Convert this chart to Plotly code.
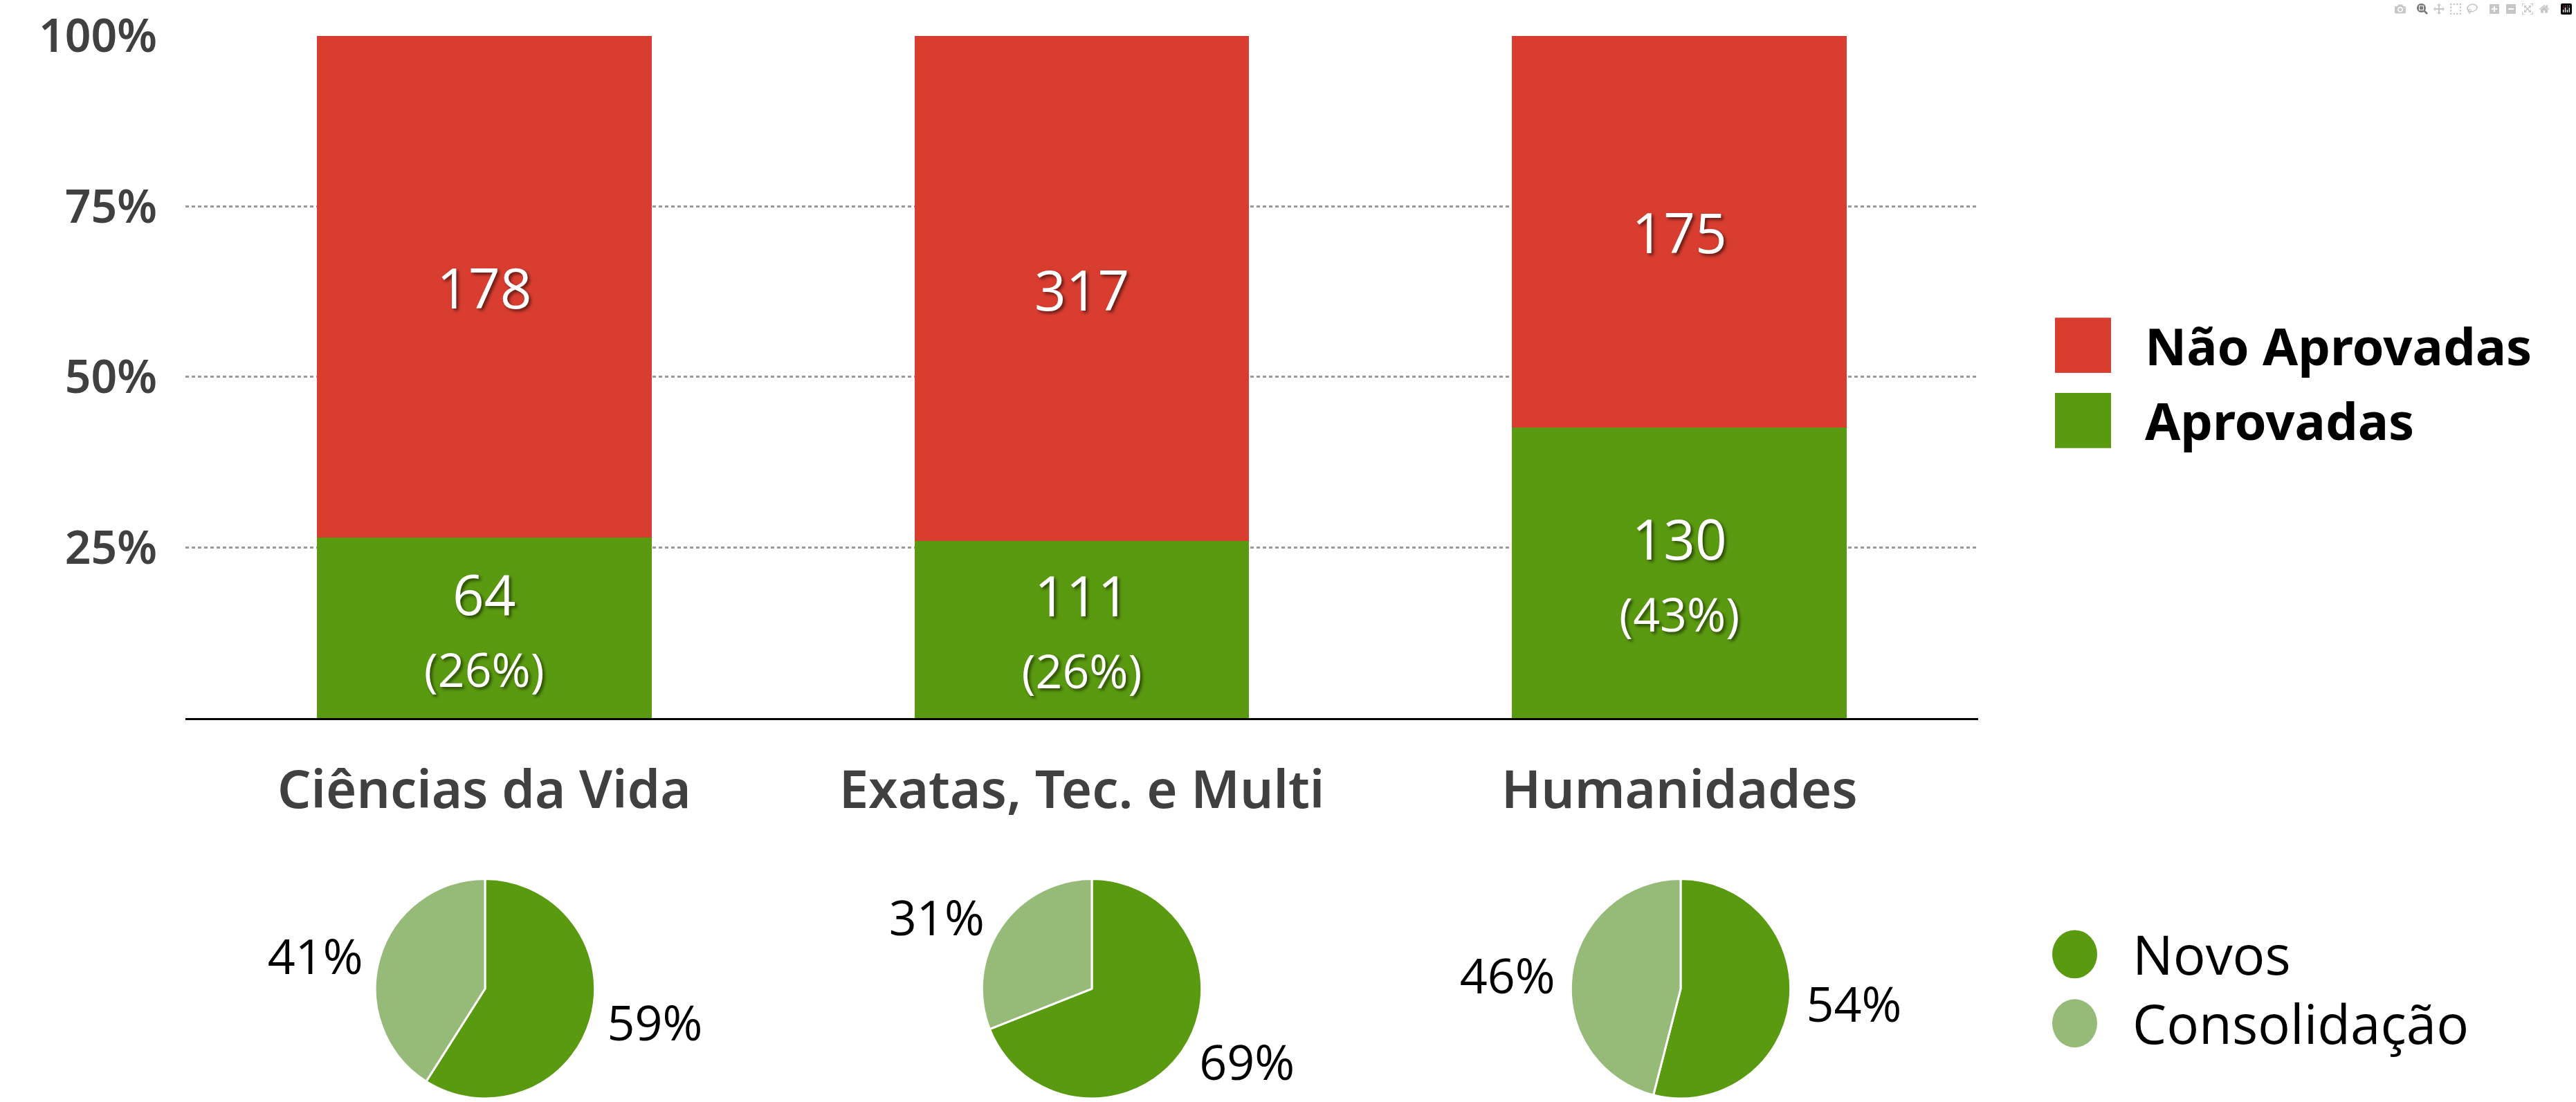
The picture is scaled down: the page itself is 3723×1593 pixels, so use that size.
import plotly.graph_objects as go

# ---------------- data ----------------
categories = ["Ciências da Vida", "Exatas, Tec. e Multi", "Humanidades"]
aprovadas = [64, 111, 130]
nao_aprovadas = [178, 317, 175]
series_names = ["Não Aprovadas", "Aprovadas"]

pie_labels = ["Novos", "Consolidação"]
pie_novos = [59, 69, 54]
pie_consolidacao = [41, 31, 46]

y_tick_vals = [25, 50, 75, 100]
y_tick_text = ["25%", "50%", "75%", "100%"]

# ---------------- styles ----------------
W, H = 3723, 1593
RED = "#D93D30"
GREEN = "#5A9A10"
LIGHT_GREEN = "#96BB78"
AXIS_GREY = "#404040"
LABEL_FONT = "Noto Sans"
NUM_FONT = "Open Sans"
SHADOW = "3px 3px 4px rgba(0,0,0,0.55)"


def px_x(p):
    return p / W


def px_y(p):
    return (H - p) / H


fig = go.Figure()

ap_text = []
for a, n in zip(aprovadas, nao_aprovadas):
    pct = round(100 * a / (a + n))
    ap_text.append(f"{a}<br><span style='font-size:68px'>({pct}%)</span>")
na_text = [str(n) for n in nao_aprovadas]

fig.add_trace(go.Bar(
    x=categories, y=aprovadas, name=series_names[1],
    marker=dict(color=GREEN, line=dict(width=0)),
    text=ap_text, textposition="inside", insidetextanchor="middle",
    constraintext="none", textangle=0,
    textfont=dict(family=NUM_FONT, size=80, color="white", shadow=SHADOW),
    width=0.56, showlegend=False,
))
fig.add_trace(go.Bar(
    x=categories, y=nao_aprovadas, name=series_names[0],
    marker=dict(color=RED, line=dict(width=0)),
    text=na_text, textposition="inside", insidetextanchor="middle",
    constraintext="none", textangle=0,
    textfont=dict(family=NUM_FONT, size=80, color="white", shadow=SHADOW),
    width=0.56, showlegend=False,
))

# pies
pie_centers_px = [701, 1578, 2429]
pie_r = 159
pie_cy = 1432
for i, cx in enumerate(pie_centers_px):
    fig.add_trace(go.Pie(
        labels=pie_labels,
        values=[pie_novos[i], pie_consolidacao[i]],
        sort=False, direction="clockwise", rotation=0,
        marker=dict(colors=[GREEN, LIGHT_GREEN], line=dict(color="white", width=3)),
        textinfo="percent", texttemplate="%{percent:.0%}",
        textposition="outside",
        outsidetextfont=dict(family=NUM_FONT, size=70, color="black"),
        domain=dict(x=[px_x(cx - pie_r), px_x(cx + pie_r)],
                    y=[px_y(pie_cy + pie_r), px_y(pie_cy - pie_r)]),
        showlegend=False, hoverinfo="label+percent",
    ))

# ---------------- manual legends ----------------
shapes = []
annotations = []
bar_legend = [(series_names[0], RED, 500), (series_names[1], GREEN, 609)]
for name, col, cy in bar_legend:
    shapes.append(dict(type="rect", xref="paper", yref="paper",
                       x0=px_x(2970), x1=px_x(3051), y0=px_y(cy + 40), y1=px_y(cy - 40),
                       fillcolor=col, line=dict(width=0)))
    annotations.append(dict(text=name, xref="paper", yref="paper",
                            x=px_x(3098), y=px_y(cy), xanchor="left", yanchor="middle",
                            showarrow=False,
                            font=dict(family=LABEL_FONT, size=74, color="black", weight="bold")))

pie_legend = [(pie_labels[0], GREEN, 1382), (pie_labels[1], LIGHT_GREEN, 1482)]
for name, col, cy in pie_legend:
    shapes.append(dict(type="circle", xref="paper", yref="paper",
                       x0=px_x(2966), x1=px_x(3031), y0=px_y(cy + 35), y1=px_y(cy - 35),
                       fillcolor=col, line=dict(width=0)))
    annotations.append(dict(text=name, xref="paper", yref="paper",
                            x=px_x(3080), y=px_y(cy), xanchor="left", yanchor="middle",
                            showarrow=False,
                            font=dict(family=NUM_FONT, size=78, color="black")))

fig.update_layout(
    width=W, height=H,
    margin=dict(l=0, r=0, t=0, b=0, pad=0),
    paper_bgcolor="white", plot_bgcolor="white",
    barmode="stack", barnorm="percent",
    showlegend=False,
    shapes=shapes, annotations=annotations,
    xaxis=dict(domain=[px_x(268), px_x(2859)], range=[-0.5, 2.5],
               automargin=False,
               showline=True, linecolor="black", linewidth=3,
               showgrid=False, zeroline=False, ticks="",
               ticklabelstandoff=36,
               tickfont=dict(family=LABEL_FONT, size=76, color=AXIS_GREY, weight=600)),
    yaxis=dict(domain=[px_y(1040), px_y(52)], range=[0, 100],
               automargin=False,
               tickvals=y_tick_vals, ticktext=y_tick_text,
               showgrid=True, gridcolor="#9A9A9A", gridwidth=3, griddash="5px,4px",
               zeroline=False, showline=False, ticks="",
               ticklabelstandoff=40,
               tickfont=dict(family=LABEL_FONT, size=66, color=AXIS_GREY, weight=600)),
)

fig.write_html("out.html",
               post_script="document.body.style.margin='0';document.body.style.overflow='hidden';")
